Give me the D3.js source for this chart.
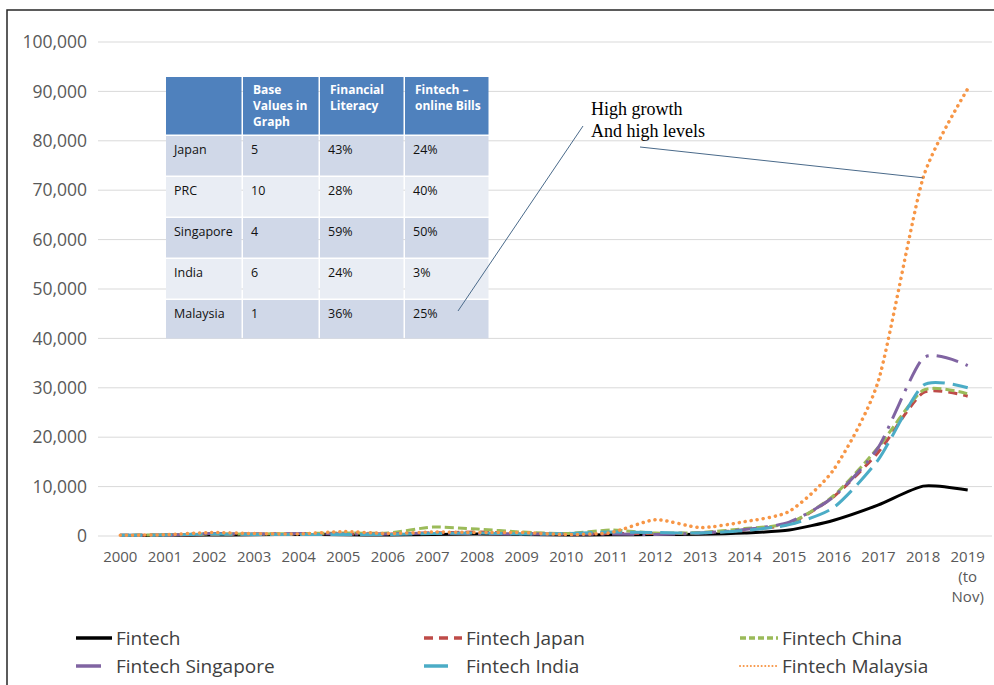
<!DOCTYPE html>
<html>
<head>
<meta charset="utf-8">
<script src="https://cdn.jsdelivr.net/npm/d3@7"></script>
<style>
  body { margin: 0; background: #fff; }
  svg { display: block; }
</style>
</head>
<body>
<div id="container"></div>
<script>
// years on the x axis, last one is partial
const years = ["2000","2001","2002","2003","2004","2005","2006","2007","2008","2009",
  "2010","2011","2012","2013","2014","2015","2016","2017","2018","2019"]
const yearLabels = {"2019": ["2019", "(to", "Nov)"]}
const yTicks = [0,10000,20000,30000,40000,50000,60000,70000,80000,90000,100000]

const fintech   = [100,150,200,250,300,250,200,300,400,300,200,250,300,350,600,1200,3200,6300,10100,9300]
const japan     = [150,200,300,400,400,400,400,600,800,500,400,500,500,600,1200,2500,8000,17000,29000,28300]
const china     = [150,250,400,400,500,600,600,1800,1400,800,500,1200,600,700,1500,2600,8200,18000,29500,28800]
const singapore = [150,200,500,400,500,400,400,600,500,400,400,400,300,600,1300,2800,8000,18000,36000,34500]
const india     = [150,200,400,300,300,300,300,500,600,400,500,800,700,600,1100,2300,5800,15500,30500,30000]
const malaysia  = [150,250,700,500,400,900,500,800,700,700,300,700,3300,1700,2900,5000,13500,31500,72500,90500]

// inset table
const tableHeader = ["", "Base Values in Graph", "Financial Literacy", "Fintech \u2013 online Bills"]
const tableHeaderLines = [[""], ["Base", "Values in", "Graph"], ["Financial", "Literacy"], ["Fintech \u2013", "online Bills"]]
const tableRows = [
  ["Japan", "5", "43%", "24%"],
  ["PRC", "10", "28%", "40%"],
  ["Singapore", "4", "59%", "50%"],
  ["India", "6", "24%", "3%"],
  ["Malaysia", "1", "36%", "25%"]
]
const annotation = ["High growth", "And high levels"]

const series = [
  {name: "Fintech", values: fintech, color: "#000000", dash: null, width: 3},
  {name: "Fintech Japan", values: japan, color: "#be4b48", dash: "9,6", width: 3},
  {name: "Fintech China", values: china, color: "#9bbb59", dash: "9,4", width: 3},
  {name: "Fintech Singapore", values: singapore, color: "#8064a2", dash: "22,8,3,8", width: 3},
  {name: "Fintech India", values: india, color: "#4bacc6", dash: "22,8", width: 3},
  {name: "Fintech Malaysia", values: malaysia, color: "#f79646", dash: "0.1,6", width: 3.5, cap: "round"}
]

const W = 994, H = 685
const svg = d3.select("#container").append("svg")
  .attr("width", W).attr("height", H)

// outer frame
svg.append("rect")
  .attr("x", 7).attr("y", 10)
  .attr("width", 1000).attr("height", 700)
  .attr("fill", "#fff")
  .attr("stroke", "#262626").attr("stroke-width", 1.5)

const x = d3.scaleBand().domain(years).range([98, 990])
const y = d3.scaleLinear().domain([0, 100000]).range([536, 42])
const cx = d => x(d) + x.bandwidth() / 2

/* GRID */
svg.selectAll(".grid")
  .data(yTicks)
  .join("line")
  .attr("x1", 98).attr("x2", 992)
  .attr("y1", d => y(d)).attr("y2", d => y(d))
  .attr("stroke", "#d9d9d9").attr("stroke-width", 1)

/* Y AXIS LABELS */
svg.selectAll(".ylab")
  .data(yTicks)
  .join("text")
  .attr("x", 87).attr("y", d => y(d))
  .attr("dy", "0.35em")
  .attr("text-anchor", "end")
  .style("font-family", "'Open Sans', sans-serif")
  .style("font-size", "17.5px")
  .attr("fill", "#595959")
  .text(d => d3.format(",")(d))

/* X AXIS LABELS */
const xl = svg.selectAll(".xlab")
  .data(years)
  .join("text")
  .attr("x", d => cx(d)).attr("y", 562)
  .attr("text-anchor", "middle")
  .style("font-family", "'Open Sans', sans-serif")
  .style("font-size", "15px")
  .attr("fill", "#595959")
xl.each(function(d) {
  const lines = yearLabels[d] || [d]
  d3.select(this).selectAll("tspan")
    .data(lines)
    .join("tspan")
    .attr("x", cx(d))
    .attr("dy", (l, i) => i === 0 ? 0 : 20)
    .text(l => l)
})

/* TABLE */
const colX = [166, 243, 320, 405, 490]
const rowY = [77, 136, 177, 218, 259, 300, 340]
const tbl = svg.append("g")
tbl.selectAll(".hcell")
  .data(tableHeader)
  .join("rect")
  .attr("x", (d, i) => colX[i]).attr("y", rowY[0])
  .attr("width", (d, i) => colX[i + 1] - colX[i] - 1.5)
  .attr("height", rowY[1] - rowY[0] - 1.5)
  .attr("fill", "#4f81bd")
tableHeaderLines.forEach((lines, i) => {
  tbl.append("text")
    .attr("x", colX[i] + 10).attr("y", rowY[0] + 17)
    .style("font-family", "'Open Sans', sans-serif")
    .style("font-size", "12px").style("font-weight", "bold")
    .attr("fill", "#fff")
    .selectAll("tspan").data(lines).join("tspan")
    .attr("x", colX[i] + 10)
    .attr("dy", (l, j) => j === 0 ? 0 : 16)
    .text(l => l)
})
tableRows.forEach((row, r) => {
  row.forEach((cell, c) => {
    tbl.append("rect")
      .attr("x", colX[c]).attr("y", rowY[r + 1])
      .attr("width", colX[c + 1] - colX[c] - 1.5)
      .attr("height", rowY[r + 2] - rowY[r + 1] - 1.5)
      .attr("fill", r % 2 === 0 ? "#d0d8e8" : "#e9edf4")
    tbl.append("text")
      .attr("x", colX[c] + 8).attr("y", rowY[r + 1] + 18)
      .style("font-family", "'Open Sans', sans-serif")
      .style("font-size", "12.5px")
      .attr("fill", "#111")
      .text(cell)
  })
})

/* LINES */
const line = d3.line()
  .x((d, i) => cx(years[i]))
  .y(d => y(d))
  .curve(d3.curveCardinal.tension(0.35))

svg.selectAll(".series")
  .data(series)
  .join("path")
  .attr("fill", "none")
  .attr("stroke", d => d.color)
  .attr("stroke-width", d => d.width)
  .attr("stroke-dasharray", d => d.dash)
  .attr("stroke-linecap", d => d.cap || "butt")
  .attr("d", d => line(d.values))

/* ANNOTATION */
const ann = svg.append("text")
  .attr("x", 591).attr("y", 115)
  .style("font-family", "'Liberation Serif', 'Times New Roman', serif")
  .style("font-size", "18px")
  .attr("fill", "#000")
ann.selectAll("tspan").data(annotation).join("tspan")
  .attr("x", 591)
  .attr("dy", (d, i) => i === 0 ? 0 : 22)
  .text(d => d)

svg.append("line")
  .attr("x1", 583).attr("y1", 126)
  .attr("x2", 458).attr("y2", 311)
  .attr("stroke", "#4a6a8a").attr("stroke-width", 1)
svg.append("line")
  .attr("x1", 640).attr("y1", 147)
  .attr("x2", cx("2018")).attr("y2", y(malaysia[18]))
  .attr("stroke", "#4a6a8a").attr("stroke-width", 1)

/* LEGEND */
const legendPos = [
  {x: 76, y: 638, len: 36, tx: 116},
  {x: 424, y: 638, len: 38, tx: 466},
  {x: 740, y: 638, len: 38, tx: 782},
  {x: 76, y: 666, len: 25, tx: 116},
  {x: 424, y: 666, len: 24, tx: 466},
  {x: 740, y: 666, len: 38, tx: 782}
]
const legendDash = [null, "9,6", "6,3", null, null, "0.1,3.5"]
const lg = svg.selectAll(".legend")
  .data(series)
  .join("g")
lg.append("line")
  .attr("x1", (d, i) => legendPos[i].x)
  .attr("x2", (d, i) => legendPos[i].x + legendPos[i].len)
  .attr("y1", (d, i) => legendPos[i].y)
  .attr("y2", (d, i) => legendPos[i].y)
  .attr("stroke", d => d.color)
  .attr("stroke-width", (d, i) => i === 5 ? 2 : 3.5)
  .attr("stroke-dasharray", (d, i) => legendDash[i])
  .attr("stroke-linecap", (d, i) => i === 5 ? "round" : "butt")
lg.append("text")
  .attr("x", (d, i) => legendPos[i].tx)
  .attr("y", (d, i) => legendPos[i].y)
  .attr("dy", "0.35em")
  .style("font-family", "'Open Sans', sans-serif")
  .style("font-size", "19px")
  .attr("fill", "#404040")
  .text(d => d.name)
</script>
</body>
</html>
